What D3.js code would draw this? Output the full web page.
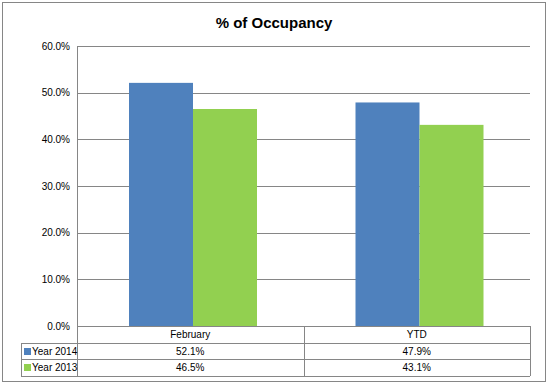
<!DOCTYPE html>
<html>
<head>
<meta charset="utf-8">
<script src="https://cdn.jsdelivr.net/npm/d3@7"></script>
<style>
  body { margin: 0; background: #fff; }
  text { font-family: "Liberation Sans", Arial, sans-serif; }
</style>
</head>
<body>
<svg id="chart" width="548" height="387"></svg>
<script>
// data
let categories = ['February', 'YTD']
let seriesNames = ['Year 2014', 'Year 2013']
let year2014 = [52.1, 47.9]
let year2013 = [46.5, 43.1]
let seriesColors = ['#4F81BD', '#92D050']
let yTicks = [0, 10, 20, 30, 40, 50, 60]

let seriesValues = [year2014, year2013]

let svg = d3.select('svg#chart')

// outer frame
svg.append('rect')
  .attr('x', 2.5).attr('y', 2.5)
  .attr('width', 543).attr('height', 379)
  .attr('fill', '#fff')
  .attr('stroke', '#868686')

// title
svg.append('text')
  .attr('x', 274)
  .attr('y', 28)
  .attr('text-anchor', 'middle')
  .attr('font-size', 15)
  .attr('font-weight', 'bold')
  .text('% of Occupancy')

// plot area
let plotLeft = 77, plotRight = 530, plotTop = 46, plotBottom = 326

let xScale = d3.scaleBand()
  .domain(categories)
  .range([plotLeft, plotRight])

let xInner = d3.scaleBand()
  .domain(seriesNames)
  .range([0, 128])

let yScale = d3.scaleLinear()
  .domain([0, 60])
  .range([plotBottom, plotTop])

// gridlines + labels
let yAxis = svg.append('g')
  .attr('transform', `translate(${plotLeft}, 0)`)
  .call(d3.axisLeft(yScale)
    .tickValues(yTicks)
    .tickSize(-(plotRight - plotLeft))
    .tickPadding(7)
    .tickFormat(d => d.toFixed(1) + '%'))

yAxis.select('.domain').remove()
yAxis.selectAll('.tick line')
  .attr('stroke', '#868686')
  .attr('shape-rendering', 'crispEdges')
yAxis.selectAll('.tick text')
  .attr('font-size', 10)
  .attr('fill', '#000')
  .style('font-family', '"Liberation Sans", Arial, sans-serif')

// left axis line
svg.append('line')
  .attr('x1', plotLeft + 0.5).attr('x2', plotLeft + 0.5)
  .attr('y1', plotTop).attr('y2', plotBottom)
  .attr('stroke', '#868686')

// bars
let groups = svg.selectAll('g.cat')
  .data(categories)
  .enter()
  .append('g')
  .attr('class', 'cat')
  .attr('transform', (d) => `translate(${xScale(d) + 52}, 0)`)

groups.selectAll('rect')
  .data((d, i) => seriesNames.map((s, j) => ({ series: s, value: seriesValues[j][i], color: seriesColors[j] })))
  .enter()
  .append('rect')
  .attr('x', (d) => xInner(d.series))
  .attr('y', (d) => yScale(d.value))
  .attr('width', xInner.bandwidth())
  .attr('height', (d) => yScale(0) - yScale(d.value))
  .attr('fill', (d) => d.color)

// data table below
let rowH = 16.5
let tableLeft = 21
let table = svg.append('g')
  .attr('shape-rendering', 'crispEdges')

// horizontal lines
let rowYs = [plotBottom, plotBottom + rowH, plotBottom + 2 * rowH, plotBottom + 3 * rowH].map(Math.round)
rowYs.forEach((y, i) => {
  table.append('line')
    .attr('x1', i === 0 ? plotLeft : tableLeft).attr('x2', plotRight)
    .attr('y1', y + 0.5).attr('y2', y + 0.5)
    .attr('stroke', '#868686')
})

// vertical lines
table.append('line')
  .attr('x1', tableLeft + 0.5).attr('x2', tableLeft + 0.5)
  .attr('y1', rowYs[1]).attr('y2', rowYs[3])
  .attr('stroke', '#868686')
let colEdges = [plotLeft, xScale('YTD'), plotRight]
colEdges.forEach((x) => {
  table.append('line')
    .attr('x1', Math.round(x) + 0.5).attr('x2', Math.round(x) + 0.5)
    .attr('y1', rowYs[0]).attr('y2', rowYs[3])
    .attr('stroke', '#868686')
})

// category row
table.selectAll('text.cat')
  .data(categories)
  .enter()
  .append('text')
  .attr('x', (d) => xScale(d) + xScale.bandwidth() / 2)
  .attr('y', rowYs[0] + 12)
  .attr('text-anchor', 'middle')
  .attr('font-size', 10)
  .text((d) => d)

// series rows
seriesNames.forEach((s, j) => {
  let y0 = rowYs[j + 1]
  table.append('rect')
    .attr('x', tableLeft + 3).attr('y', y0 + 5)
    .attr('width', 7).attr('height', 7)
    .attr('fill', seriesColors[j])
  table.append('text')
    .attr('x', tableLeft + 11)
    .attr('y', y0 + 12)
    .attr('font-size', 10)
    .text(s)
  table.selectAll(null)
    .data(seriesValues[j])
    .enter()
    .append('text')
    .attr('x', (d, i) => xScale(categories[i]) + xScale.bandwidth() / 2)
    .attr('y', y0 + 12)
    .attr('text-anchor', 'middle')
    .attr('font-size', 10)
    .text((d) => d.toFixed(1) + '%')
})
</script>
</body>
</html>
